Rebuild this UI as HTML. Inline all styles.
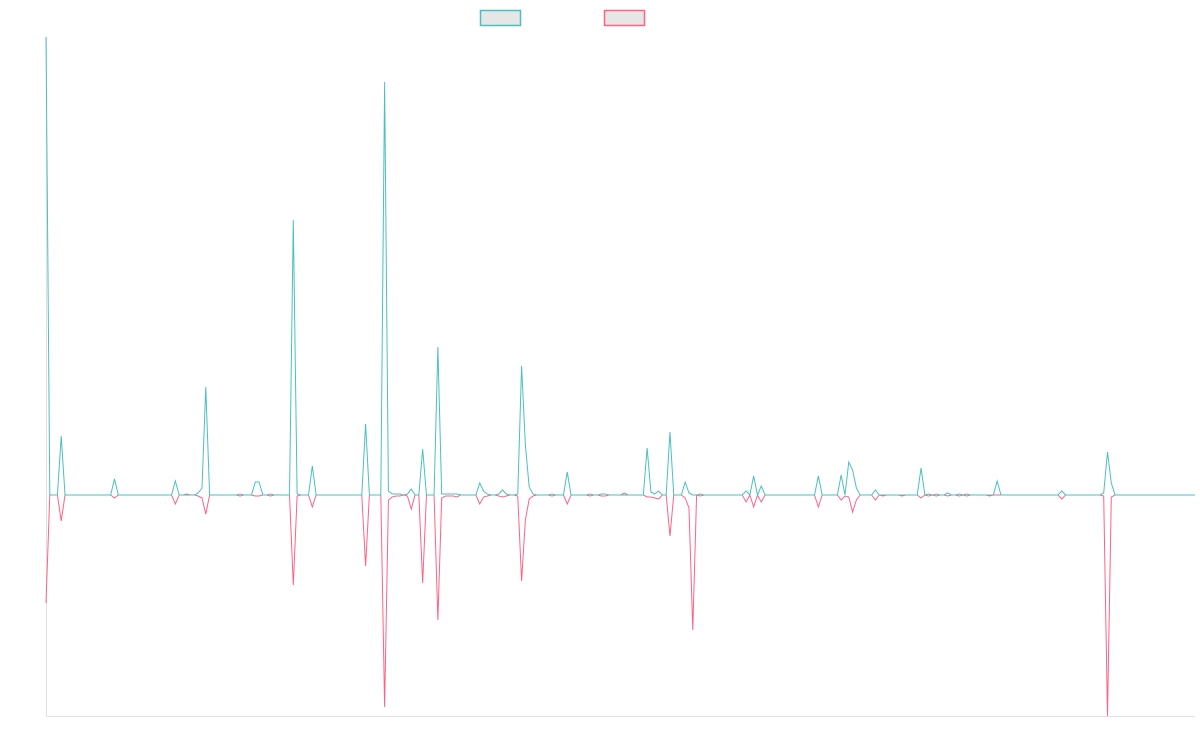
<!DOCTYPE html>
<html><head><meta charset="utf-8"><title>chart</title>
<style>html,body{margin:0;padding:0;background:#fff;}svg{display:block;font-family:"Liberation Sans",sans-serif;}</style>
</head><body>
<svg id="chart" width="1200" height="750" viewBox="0 0 1200 750" xmlns="http://www.w3.org/2000/svg">
<g>
<rect x="480.5" y="10.5" width="40" height="15" fill="#e6e6e6" stroke="rgb(75,192,192)" stroke-width="1.5"/>
<rect x="604.5" y="10.5" width="40" height="15" fill="#e6e6e6" stroke="rgb(255,99,132)" stroke-width="1.5"/>
</g>
<line x1="46.5" y1="37" x2="46.5" y2="716.5" stroke="#e0e0e0" stroke-width="1"/>
<line x1="46" y1="716.5" x2="1195" y2="716.5" stroke="#e0e0e0" stroke-width="1"/>
<g id="series"></g>
</svg>
<script>
const tealValues = [
458,0,0,0,59,0,0,0,0,0,0,0,0,0,0,0,0,0,16,0,
0,0,0,0,0,0,0,0,0,0,0,0,0,0,14,0,0,1,0,0,
2,7,108,0,0,0,0,0,0,0,0,1,0,0,0,13,13,0,0,1,
0,0,0,0,0,275,1,0,0,0,29,0,0,0,0,0,0,0,0,0,
0,0,0,0,71,0,0,0,0,413,4,1,1,1,0,1,6,0,0,46,
0,0,0,148,1,1,1,1,1,0,0,0,0,0,12,4,1,0,0,1,
5,1,0,0,1,129,50,8,1,0,0,0,0,1,0,0,0,23,0,0,
0,0,0,1,0,0,1,1,0,0,0,0,2,0,0,0,0,0,47,3,
1,4,0,0,63,0,0,0,13,2,0,0,1,0,0,0,0,0,0,0,
0,0,0,0,4,0,19,0,9,0,0,0,0,0,0,0,0,0,0,0,
0,0,0,19,0,0,0,0,0,20,0,33,25,7,0,0,0,0,5,0,
0,0,0,0,0,0,0,0,0,0,27,0,1,0,1,0,0,2,0,0,
1,0,1,0,0,0,0,0,0,0,14,0,0,0,0,0,0,0,0,0,
0,0,0,0,0,0,0,4,0,0,0,0,0,0,0,0,0,0,2,43,
12,0,0,0,0,0,0,0,0,0,0,0,0,0,0,0,0,0,0,0,
0,0,0];
const pinkValues = [
-108,0,0,0,-26,0,0,0,0,0,0,0,0,0,0,0,0,0,-3,0,
0,0,0,0,0,0,0,0,0,0,0,0,0,0,-9,0,0,0,0,0,
-1,-3,-19,0,0,0,0,0,0,0,0,-1,0,0,0,-1,-1,0,0,-1,
0,0,0,0,0,-90,-1,0,0,0,-12,0,0,0,0,0,0,0,0,0,
0,0,0,0,-71,0,0,0,0,-212,-5,-2,-1,-1,0,-1,-14,0,0,-88,
0,0,0,-125,-3,-1,-1,-1,-2,0,0,0,0,0,-9,-2,-1,0,0,-1,
-2,-1,0,0,-1,-86,-25,-4,-1,0,0,0,0,-1,0,0,0,-9,0,0,
0,0,0,-1,0,0,-1,-1,0,0,0,0,0,0,0,0,0,0,-2,-2,
-3,-4,0,0,-41,0,0,0,-3,-13,-135,0,-1,0,0,0,0,0,0,0,
0,0,0,0,-7,0,-12,0,-7,0,0,0,0,0,0,0,0,0,0,0,
0,0,0,-12,0,0,0,0,0,-5,-1,-2,-17,-5,0,0,0,0,-5,0,
-1,0,0,0,0,-1,0,0,0,0,-3,0,-1,0,-1,0,0,-1,0,0,
-1,0,-1,0,0,0,0,0,-1,0,0,0,0,0,0,0,0,0,0,0,
0,0,0,0,0,0,0,-4,0,0,0,0,0,0,0,0,0,0,-1,-221,
-2,0,0,0,0,0,0,0,0,0,0,0,0,0,0,0,0,0,0,0,
0,0,0];
const yMin = -221, yMax = 458;

const plotLeft = 46, plotRight = 1195, plotTop = 37, plotBottom = 716;
const n = tealValues.length;
function xScale(i){ return plotLeft + i * (plotRight - plotLeft) / (n - 1); }
function yScale(v){ return plotBottom - (v - yMin) / (yMax - yMin) * (plotBottom - plotTop); }
const g = document.getElementById('series');
function drawLine(vals, color, name){
  let d = '';
  vals.forEach((v,i)=>{ d += (i ? 'L' : 'M') + xScale(i).toFixed(2) + ' ' + yScale(v).toFixed(2); });
  const p = document.createElementNS('http://www.w3.org/2000/svg','path');
  p.setAttribute('d', d);
  p.setAttribute('fill','none');
  p.setAttribute('stroke', color);
  p.setAttribute('stroke-width','1');
  p.setAttribute('stroke-linejoin','miter');
  
  
  g.appendChild(p);
}
drawLine(pinkValues, 'rgb(255,99,132)', 'series-2-line');
drawLine(tealValues, 'rgb(75,192,192)', 'series-1-line');
</script>
</body></html>
